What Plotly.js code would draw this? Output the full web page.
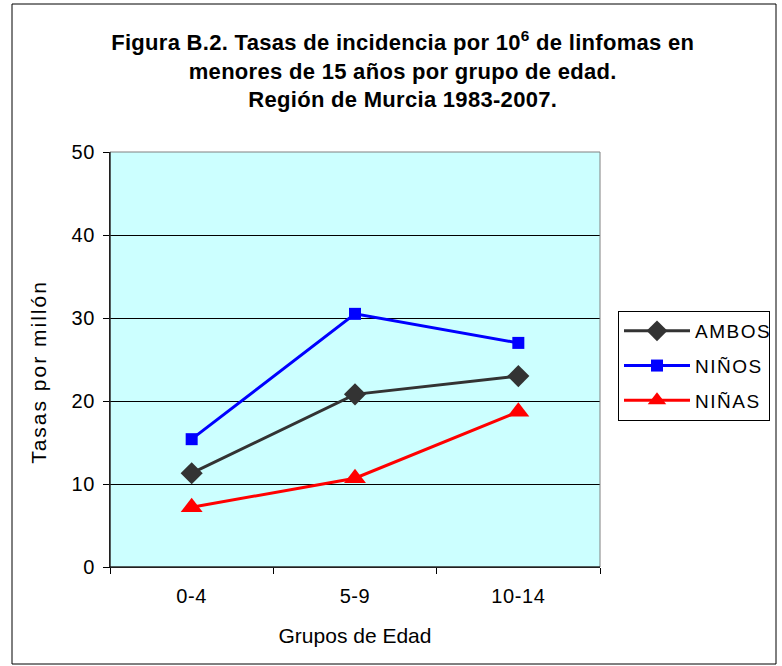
<!DOCTYPE html>
<html><head><meta charset="utf-8">
<script src="https://cdn.plot.ly/plotly-3.0.1.min.js"></script>
<style>
body{margin:0;padding:0;background:#fff}
#chart{width:782px;height:666px}
#chart .gtitle{letter-spacing:0.3px}
#chart .xtick text,#chart .ytick text{letter-spacing:0.6px}
#chart .ytitle{letter-spacing:2px}
#chart .legendtext{letter-spacing:1.5px}
</style>
</head><body><div id="chart"></div>
<script>
const categories = ["0-4", "5-9", "10-14"];
const ambos = [11.3, 20.8, 23.0];
const ninos = [15.4, 30.5, 27.0];
const ninas = [7.2, 10.7, 18.7];
const seriesNames = ["AMBOS", "NIÑOS", "NIÑAS"];

const font = "Arial, 'Liberation Sans', sans-serif";
const traces = [
  {x: categories, y: ambos, name: seriesNames[0], legendgroup: "a", type: "scatter", mode: "lines+markers",
   line: {color: "#333333", width: 3}, marker: {symbol: "diamond", size: 17, color: "#333333"}},
  {x: categories, y: ninos, name: seriesNames[1], legendgroup: "b", type: "scatter", mode: "lines+markers",
   line: {color: "#0000FF", width: 3}, marker: {symbol: "square", size: 12, color: "#0000FF"}},
  {x: categories, y: ninas, name: seriesNames[2], legendgroup: "c", type: "scatter", mode: "lines+markers",
   line: {color: "#FF0000", width: 3}, marker: {symbol: "triangle-up", size: 19, color: "#FF0000"}}
];
const W = 782, H = 666, L = 110, R = 182, T = 152, B = 99;
const pw = W - L - R, ph = H - T - B;
const px = v => (v - L) / pw, py = v => (H - B - v) / ph;
const layout = {
  width: W, height: H,
  margin: {l: L, r: R, t: T, b: B},
  paper_bgcolor: "#ffffff", plot_bgcolor: "#CCFFFF",
  font: {family: font, size: 19, color: "#000"},
  title: {text: "<b>Figura B.2. Tasas de incidencia por 10<sup>6</sup> de linfomas en<br>menores de 15 años por grupo de edad.<br>Región de Murcia 1983-2007.</b>",
          font: {family: font, size: 22, color: "#000"}, x: 0.515, xanchor: "center", y: 0.925, yanchor: "top", yref: "container"},
  xaxis: {type: "category", range: [-0.5, 2.5], showline: true, linecolor: "#000", linewidth: 1,
          ticks: "outside", tickson: "boundaries", ticklen: 6, tickcolor: "#000", showgrid: false,
          ticklabelstandoff: 11,
          tickfont: {size: 20}, title: {text: "Grupos de Edad", font: {size: 21}, standoff: 22}},
  yaxis: {range: [0, 50], dtick: 10, showline: true, linecolor: "#000", linewidth: 1,
          ticks: "outside", ticklen: 6, tickcolor: "#000", showgrid: true, gridcolor: "#000", gridwidth: 1,
          ticklabelstandoff: 4,
          zeroline: false, tickfont: {size: 20},
          title: {text: "Tasas por millón<span style=\"color:rgba(0,0,0,0)\">xx</span>", font: {size: 21}, standoff: 20}},
  legend: {x: px(618), xanchor: "left", y: py(311), yanchor: "top", bordercolor: "#000", borderwidth: 1,
           bgcolor: "#fff", font: {size: 19}, tracegroupgap: 7, itemwidth: 66},
  showlegend: true,
  shapes: [
    {type: "rect", xref: "paper", yref: "paper", x0: px(110), x1: px(600), y0: py(567), y1: py(152),
     line: {color: "#808080", width: 1}, fillcolor: "rgba(0,0,0,0)", layer: "above"},
    {type: "line", xref: "paper", yref: "paper", x0: px(110), x1: px(110), y0: py(567), y1: py(152),
     line: {color: "#000", width: 1}, layer: "above"},
    {type: "line", xref: "paper", yref: "paper", x0: px(110), x1: px(600), y0: py(567), y1: py(567),
     line: {color: "#000", width: 1}, layer: "above"},
    {type: "rect", xref: "paper", yref: "paper", x0: px(12), x1: px(776), y0: py(664), y1: py(4),
     line: {color: "#000", width: 1}, fillcolor: "rgba(0,0,0,0)"}
  ]
};
Plotly.newPlot("chart", traces, layout, {displayModeBar: false});
</script></body></html>
